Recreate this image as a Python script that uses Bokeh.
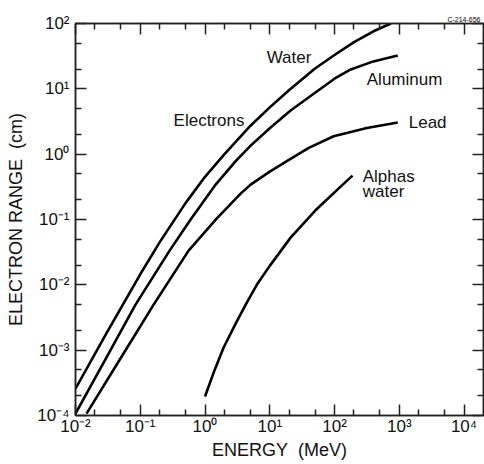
from bokeh.plotting import figure
from bokeh.models import LogAxis, FixedTicker, Label, CustomJSTickFormatter
from bokeh.embed import file_html
from bokeh.resources import INLINE

# ---- data ----
water_E = [0.01, 0.03, 0.1, 0.2, 0.5, 1.0, 2.0, 5.0, 10.0, 20.0, 50.0, 100.0, 200.0, 400.0, 741.0]
water_R = [2.57e-4, 1.8e-3, 1.45e-2, 4.5e-2, 0.178, 0.45, 1.0, 2.7, 5.2, 9.6, 20.5, 33.0, 52.0, 76.0, 100.0]

alum_E = [0.01, 0.03, 0.0845, 0.284, 0.6, 1.46, 3.0, 5.07, 10.0, 21.0, 46.0, 100.0, 178.0, 398.0, 948.0]
alum_R = [1.07e-4, 7.7e-4, 4.98e-3, 0.0334, 0.1, 0.342, 0.79, 1.35, 2.5, 4.66, 8.18, 14.3, 19.8, 26.3, 32.4]

lead_E = [0.0148, 0.05, 0.161, 0.558, 1.5, 3.55, 5.07, 10.0, 18.9, 40.0, 97.0, 316.0, 948.0]
lead_R = [1.07e-4, 7.6e-4, 4.98e-3, 0.0334, 0.102, 0.249, 0.342, 0.54, 0.798, 1.25, 1.88, 2.51, 3.05]

alpha_E = [1.0, 1.4, 1.94, 3.0, 4.25, 6.5, 10.0, 21.0, 50.0, 134.0, 190.0]
alpha_R = [1.95e-4, 4.9e-4, 1.10e-3, 2.6e-3, 4.98e-3, 0.0105, 0.0195, 0.0528, 0.136, 0.342, 0.47]

x_major = [1e-2, 1e-1, 1e0, 1e1, 1e2, 1e3, 1e4]
x_labels = ["10⁻²", "10⁻¹", "10⁰", "10¹", "10²", "10³", "10⁴"]
y_major = [1e-4, 1e-3, 1e-2, 1e-1, 1e0, 1e1, 1e2]
y_labels = ["10⁻⁴", "10⁻³", "10⁻²", "10⁻¹", "10⁰", "10¹", "10²"]
minor_mult = [2, 5]

x_minor = [m * d for d in x_major[:-1] for m in minor_mult]
y_minor = [m * d for d in y_major[:-1] for m in minor_mult]

FONT = "Liberation Sans"
INK = "#111111"
FRAME = "#222222"

LABEL_JS = """
const lt = Math.log10(tick);
for (let i = 0; i < tv.length; i++) {
  if (Math.abs(Math.log10(tv[i]) - lt) < 1e-6) { return tl[i]; }
}
return "";
"""

p = figure(width=484, height=464, x_axis_type="log", y_axis_type="log",
           x_range=(1e-2, 2e4), y_range=(1e-4, 1e2),
           output_backend="svg", toolbar_location=None,
           min_border_left=75, min_border_right=1,
           min_border_top=23, min_border_bottom=49,
           title="C-214-656")
p.grid.visible = False
p.outline_line_color = FRAME
p.outline_line_width = 1.5
p.background_fill_color = "white"
p.border_fill_color = "white"

p.title.align = "right"
p.title.text_font = FONT
p.title.text_font_size = "7px"
p.title.text_font_style = "normal"
p.title.text_color = "#000000"
p.title.standoff = 1
p.title.offset = 3


def style_axis(ax, ticks, minor, labels=None):
    ax.ticker = FixedTicker(ticks=ticks, minor_ticks=minor)
    ax.axis_line_color = FRAME
    ax.axis_line_width = 1.5
    ax.major_tick_line_color = FRAME
    ax.major_tick_line_width = 1.5
    ax.minor_tick_line_color = FRAME
    ax.minor_tick_line_width = 1.5
    ax.major_tick_in = 11
    ax.major_tick_out = 0
    ax.minor_tick_in = 6
    ax.minor_tick_out = 0
    ax.major_label_text_font = FONT
    ax.major_label_text_color = INK
    if labels is not None:
        ax.formatter = CustomJSTickFormatter(args=dict(tv=ticks, tl=labels), code=LABEL_JS)
        ax.major_label_text_font_size = "17px"
    else:
        ax.formatter = CustomJSTickFormatter(code="return '';")
        ax.major_label_text_font_size = "1px"
        ax.major_label_standoff = 0


xa = p.xaxis[0]
style_axis(xa, x_major, x_minor, x_labels)
xa.major_label_standoff = 1
xa.axis_label = "ENERGY\u00a0\u00a0(MeV)"
xa.axis_label_text_font = FONT
xa.axis_label_text_font_size = "18px"
xa.axis_label_text_font_style = "normal"
xa.axis_label_text_color = INK
xa.axis_label_standoff = 1

ya = p.yaxis[0]
style_axis(ya, y_major, y_minor, y_labels)
ya.major_label_standoff = 6
ya.axis_label = "ELECTRON RANGE\u00a0\u00a0(cm)"
ya.axis_label_text_font = FONT
ya.axis_label_text_font_size = "18px"
ya.axis_label_text_font_style = "normal"
ya.axis_label_text_color = INK
ya.axis_label_standoff = 8

top = LogAxis()
style_axis(top, x_major, x_minor)
p.add_layout(top, "above")
right = LogAxis()
style_axis(right, y_major, y_minor)
p.add_layout(right, "right")

lw = 2.6
p.line(water_E, water_R, line_color="black", line_width=lw, line_join="round")
p.line(alum_E, alum_R, line_color="black", line_width=lw, line_join="round")
p.line(lead_E, lead_R, line_color="black", line_width=lw, line_join="round")
p.line(alpha_E, alpha_R, line_color="black", line_width=lw, line_join="round")

labels = [
    ("Water", 8.95, 30.2),
    ("Aluminum", 315.0, 13.8),
    ("Electrons", 0.327, 3.27),
    ("Lead", 1400.0, 3.04),
    ("Alphas", 273.0, 0.453),
    ("water", 273.0, 0.267),
]
for txt, x, y in labels:
    p.add_layout(Label(x=x, y=y, text=txt, text_font=FONT, text_font_size="17px",
                       text_color=INK, text_align="left", text_baseline="alphabetic"))

open("out.html", "w").write(file_html(p, INLINE))
